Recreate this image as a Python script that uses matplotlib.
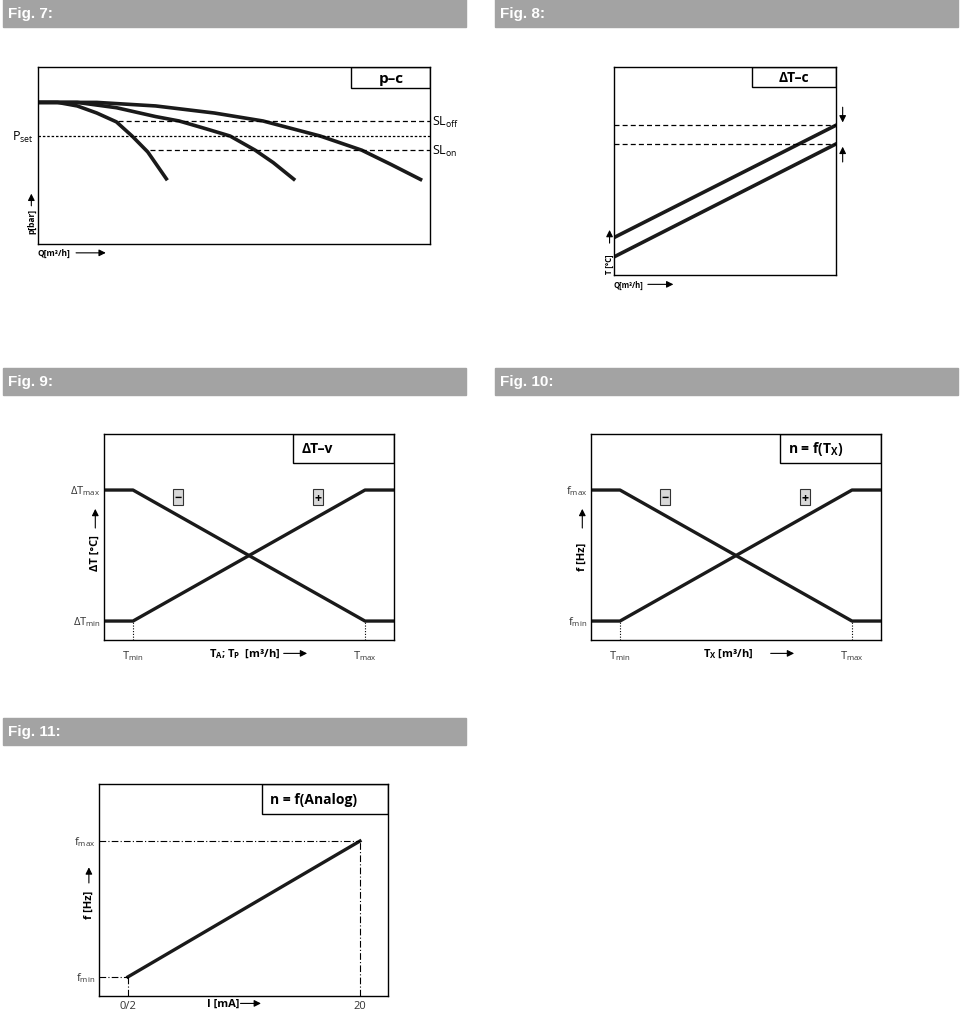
import matplotlib
matplotlib.use("Agg")
import matplotlib.pyplot as plt
from matplotlib.patches import Rectangle

W, H = 960, 1012
plt.rcParams["font.family"] = "Open Sans"

# ---- data (axes fraction units) ----
c1_x = [0, .05, .10, .15, .20, .24, .28, .33]
c1_y = [.80, .80, .78, .74, .69, .61, .52, .36]
c2_x = [0, .10, .20, .30, .36, .43, .49, .554, .60, .656]
c2_y = [.80, .80, .77, .72, .695, .65, .61, .53, .46, .36]
c3_x = [0, .15, .30, .45, .574, .72, .826, .90, .98]
c3_y = [.80, .80, .78, .74, .695, .61, .53, .45, .36]
sl_off, p_set, sl_on = 0.695, 0.61, 0.53

f8_x = [0, 1]
f8_upper = [0.18, 0.72]
f8_lower = [0.087, 0.63]

v_x = [0, 0.10, 0.90, 1.0]
v_dec = [0.728, 0.728, 0.092, 0.092]
v_inc = [0.092, 0.092, 0.728, 0.728]
t_min, t_max = 0.10, 0.90

a_x = [0.10, 0.903]
a_y = [0.09, 0.731]
a_ticks = ["0/2", "20"]

fig = plt.figure(figsize=(W/100, H/100), dpi=100)

def fx(x): return x / W
def fy(y): return 1 - y / H

def header(x0, x1, y0, y1, txt):
    fig.patches.append(Rectangle((fx(x0), fy(y1)), fx(x1-x0), (y1-y0)/H,
                                 transform=fig.transFigure, color="#a3a3a3"))
    fig.text(fx(x0+5), fy((y0+y1)/2), txt, color="white", fontsize=11,
             fontweight="bold", va="center", family="Liberation Sans")

def panel(x0, y0, x1, y1):
    ax = fig.add_axes([fx(x0), fy(y1), fx(x1-x0), (y1-y0)/H])
    ax.set_xlim(0, 1); ax.set_ylim(0, 1)
    ax.set_xticks([]); ax.set_yticks([])
    for s in ax.spines.values():
        s.set_linewidth(1.0)
    return ax

def titlebox(ax, x0, y0, txt, fs=11):
    ax.add_patch(Rectangle((x0, y0), 1 - x0, 1 - y0, fill=False, lw=1.0,
                           transform=ax.transAxes, clip_on=False))
    ax.text(x0 + 0.07 * (1 - x0) / 0.3, (1 + y0) / 2, txt, fontsize=fs,
            fontweight="bold", va="center", ha="left")

header(3, 466, 0, 28, "Fig. 7:")
header(495, 958, 0, 28, "Fig. 8:")
header(3, 466, 369, 396, "Fig. 9:")
header(495, 958, 369, 396, "Fig. 10:")
header(3, 466, 719, 746, "Fig. 11:")

# ---- Fig 7 ----
ax = panel(38, 68, 430, 245)
ax.add_patch(Rectangle((0.798, 0.88), 0.202, 0.12, fill=False, lw=1.0))
ax.text(0.90, 0.94, "p–c", fontsize=11, fontweight="bold", ha="center", va="center")
for xs, ys in [(c1_x, c1_y), (c2_x, c2_y), (c3_x, c3_y)]:
    ax.plot(xs, ys, color="#1a1a1a", lw=2.6, solid_capstyle="butt")
ax.plot([0.204, 1], [sl_off]*2, color="k", lw=0.9, ls=(0, (4, 2.5)))
ax.plot([0, 1], [p_set]*2, color="k", lw=0.9, ls=(0, (2, 1.5)))
ax.plot([0.286, 1], [sl_on]*2, color="k", lw=0.9, ls=(0, (4, 2.5)))
ax.text(-0.01, p_set, "P$_\\mathregular{set}$", ha="right", va="center", fontsize=9)
ax.text(1.005, sl_off, "SL$_\\mathregular{off}$", ha="left", va="center", fontsize=9)
ax.text(1.005, sl_on, "SL$_\\mathregular{on}$", ha="left", va="center", fontsize=9)
ax.text(-0.017, 0.06, "p[bar]", rotation=90, fontsize=6, fontweight="bold", ha="center", va="bottom")
ax.annotate("", xy=(-0.017, 0.30), xytext=(-0.017, 0.20), xycoords="axes fraction",
            arrowprops=dict(arrowstyle="-|>", color="k", lw=0.8), annotation_clip=False)
ax.text(0.0, -0.05, "Q[m³/h]", fontsize=6, fontweight="bold", ha="left", va="center")
ax.annotate("", xy=(0.18, -0.05), xytext=(0.09, -0.05), xycoords="axes fraction",
            arrowprops=dict(arrowstyle="-|>", color="k", lw=0.8), annotation_clip=False)

# ---- Fig 8 ----
ax = panel(614, 68, 836, 276)
ax.add_patch(Rectangle((0.62, 0.905), 0.38, 0.095, fill=False, lw=1.0))
ax.text(0.81, 0.952, "ΔT–c", fontsize=10, fontweight="bold", ha="center", va="center")
ax.plot(f8_x, f8_upper, color="#1a1a1a", lw=2.6)
ax.plot(f8_x, f8_lower, color="#1a1a1a", lw=2.6)
ax.plot([0, 1], [f8_upper[1]]*2, color="k", lw=0.9, ls=(0, (4, 2.5)))
ax.plot([0, 1], [f8_lower[1]]*2, color="k", lw=0.9, ls=(0, (4, 2.5)))
ax.annotate("", xy=(1.03, f8_upper[1]), xytext=(1.03, f8_upper[1] + 0.10),
            arrowprops=dict(arrowstyle="-|>", color="k", lw=0.8), annotation_clip=False)
ax.annotate("", xy=(1.03, f8_lower[1]), xytext=(1.03, f8_lower[1] - 0.10),
            arrowprops=dict(arrowstyle="-|>", color="k", lw=0.8), annotation_clip=False)
ax.text(-0.02, 0.01, "T [°C]", rotation=90, fontsize=5.5, fontweight="bold", ha="center", va="bottom")
ax.annotate("", xy=(-0.02, 0.23), xytext=(-0.02, 0.14), xycoords="axes fraction",
            arrowprops=dict(arrowstyle="-|>", color="k", lw=0.8), annotation_clip=False)
ax.text(0.0, -0.045, "Q[m³/h]", fontsize=5.5, fontweight="bold", ha="left", va="center")
ax.annotate("", xy=(0.28, -0.045), xytext=(0.14, -0.045), xycoords="axes fraction",
            arrowprops=dict(arrowstyle="-|>", color="k", lw=0.8), annotation_clip=False)

# ---- Fig 9 / 10 ----
def vpanel(x0, title, ymax, ymin, ylab, xlab):
    ax = panel(x0, 435, x0 + 290, 641)
    ax.add_patch(Rectangle((0.65, 0.86), 0.35, 0.14, fill=False, lw=1.0))
    ax.text(0.68, 0.93, title, fontsize=10, fontweight="bold", ha="left", va="center")
    ax.plot(v_x, v_dec, color="#1a1a1a", lw=2.4)
    ax.plot(v_x, v_inc, color="#1a1a1a", lw=2.4)
    for t in (t_min, t_max):
        ax.plot([t, t], [0, v_inc[0]], color="k", lw=0.8, ls=(0, (1, 1.5)))
    for xx, sym in [(0.255, "−"), (0.738, "+")]:
        ax.text(xx, 0.694, sym, fontsize=9, fontweight="bold", ha="center", va="center",
                bbox=dict(boxstyle="square,pad=0.12", fc="#d8d8d8", ec="#333333", lw=0.8))
    ax.text(-0.012, v_dec[0], ymax, ha="right", va="center", fontsize=8, color="#333")
    ax.text(-0.012, v_inc[0], ymin, ha="right", va="center", fontsize=8, color="#333")
    ax.text(t_min, -0.075, "T$_\\mathregular{min}$", ha="center", va="center", fontsize=8, color="#333")
    ax.text(t_max, -0.075, "T$_\\mathregular{max}$", ha="center", va="center", fontsize=8, color="#333")
    ax.text(0.52, -0.065, xlab, ha="center", va="center", fontsize=8, fontweight="bold")
    ax.annotate("", xy=(0.71, -0.065), xytext=(0.61, -0.065), xycoords="axes fraction",
                arrowprops=dict(arrowstyle="-|>", color="k", lw=0.8), annotation_clip=False)
    ax.text(-0.03, 0.34, ylab, rotation=90, ha="center", va="bottom", fontsize=8, fontweight="bold")
    ax.annotate("", xy=(-0.03, 0.65), xytext=(-0.03, 0.53), xycoords="axes fraction",
                arrowprops=dict(arrowstyle="-|>", color="k", lw=0.8), annotation_clip=False)

vpanel(104, "ΔT–v", "ΔT$_\\mathregular{max}$", "ΔT$_\\mathregular{min}$", "ΔT [°C]",
       "T$_\\mathregular{A}$; T$_\\mathregular{P}$  [m³/h]        ")
vpanel(591, "n = f(T$_\\mathregular{X}$)", "f$_\\mathregular{max}$", "f$_\\mathregular{min}$", "f [Hz]",
       "T$_\\mathregular{X}$ [m³/h]          ")

# ---- Fig 11 ----
ax = panel(99, 785, 388, 997)
ax.add_patch(Rectangle((0.565, 0.86), 0.435, 0.14, fill=False, lw=1.0))
ax.text(0.59, 0.93, "n = f(Analog)", fontsize=10, fontweight="bold", ha="left", va="center")
ax.plot(a_x, a_y, color="#1a1a1a", lw=2.4)
dd = (0, (6, 2, 1, 2))
ax.plot([0, a_x[1]], [a_y[1]]*2, color="k", lw=0.8, ls=dd)
ax.plot([a_x[1]]*2, [0, a_y[1]], color="k", lw=0.8, ls=dd)
ax.plot([0, a_x[0]], [a_y[0]]*2, color="k", lw=0.8, ls=dd)
ax.plot([a_x[0]]*2, [0, a_y[0]], color="k", lw=0.8, ls=dd)
ax.text(-0.012, a_y[1], "f$_\\mathregular{max}$", ha="right", va="center", fontsize=8, color="#333")
ax.text(-0.012, a_y[0], "f$_\\mathregular{min}$", ha="right", va="center", fontsize=8, color="#333")
for xv, lab in zip(a_x, a_ticks):
    ax.text(xv, -0.045, lab, ha="center", va="center", fontsize=8, color="#333")
ax.text(0.43, -0.035, "I [mA]", ha="center", va="center", fontsize=8, fontweight="bold")
ax.annotate("", xy=(0.57, -0.035), xytext=(0.48, -0.035), xycoords="axes fraction",
            arrowprops=dict(arrowstyle="-|>", color="k", lw=0.8), annotation_clip=False)
ax.text(-0.035, 0.37, "f [Hz]", rotation=90, ha="center", va="bottom", fontsize=8, fontweight="bold")
ax.annotate("", xy=(-0.035, 0.62), xytext=(-0.035, 0.52), xycoords="axes fraction",
            arrowprops=dict(arrowstyle="-|>", color="k", lw=0.8), annotation_clip=False)

fig.savefig("out.png", dpi=100)
